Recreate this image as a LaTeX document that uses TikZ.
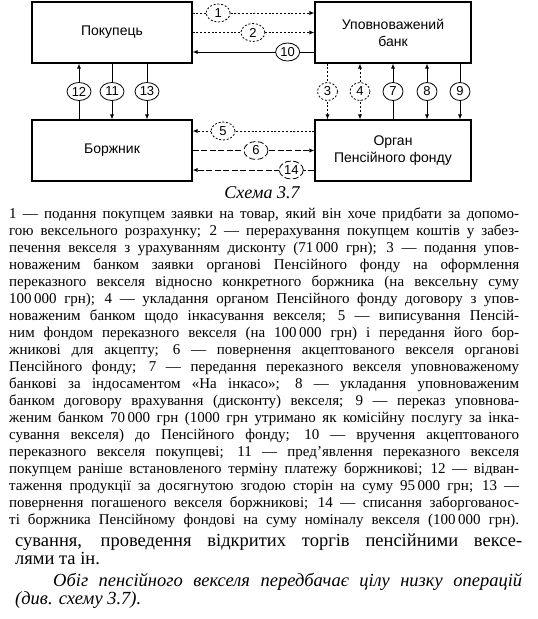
\documentclass[tikz,border=0pt]{standalone}
\usepackage{fontspec}
\setmainfont{Liberation Serif}
\setsansfont{Liberation Sans}
\usetikzlibrary{arrows.meta,shapes.geometric}

\begin{document}
\begin{tikzpicture}[x=1pt, y=-1pt,
    box/.style={draw, line width=1.1pt, minimum width=160pt, minimum height=61pt, align=center, font=\sffamily\fontsize{14}{17}\selectfont},
    num/.style={ellipse, draw, fill=white, line width=0.8pt, minimum width=20pt, minimum height=18pt, inner sep=0.5pt, font=\sffamily\fontsize{13}{13}\selectfont},
    wnum/.style={num, minimum width=24pt},
    link/.style={line width=0.8pt},
    arrow/.style={link, -{Latex[length=5pt,width=4pt]}},
    twoway/.style={link, {Latex[length=5pt,width=4pt]}-{Latex[length=5pt,width=4pt]}},
    dotline/.style={dash pattern=on 2pt off 1.8pt},
    dashline/.style={dash pattern=on 6pt off 2.5pt}
]
\useasboundingbox (0,0) rectangle (538,619);

% Participants
\node[box] (buyer) at (112,32.5) {Покупець};
\node[box, minimum width=156pt] (bank) at (393,32.5) {Уповноважений\\банк};
\node[box] (debtor) at (112,150.5) {Боржник};
\node[box, minimum width=156pt] (fund) at (393,150.5) {Орган\\Пенсійного фонду};

% Buyer <-> bank
\draw[arrow, dotline] ([yshift=19.5pt]buyer.east) -- node[wnum, pos=.21]{1} ([yshift=19.5pt]bank.west);
\draw[arrow, dotline] (buyer.east) -- node[wnum, pos=.495]{2} (bank.west);
\draw[arrow] ([yshift=-19.5pt]bank.west) -- node[wnum, pos=.22]{10} ([yshift=-19.5pt]buyer.east);

% Debtor <-> fund
\draw[arrow, dotline] ([yshift=19.5pt]fund.west) -- node[wnum, pos=.75]{5} ([yshift=19.5pt]debtor.east);
\draw[arrow, dashline] (debtor.east) -- node[wnum, pos=.52]{6} (fund.west);
\draw[arrow, dashline] ([yshift=-19.5pt]fund.west) -- node[wnum, pos=.19]{14} ([yshift=-19.5pt]debtor.east);

% Buyer <-> debtor
\draw[arrow] ([xshift=-33pt]debtor.north) -- node[wnum]{12} ([xshift=-33pt]buyer.south);
\draw[arrow] (buyer.south) -- node[wnum]{11} (debtor.north);
\draw[arrow] ([xshift=35pt]buyer.south) -- node[wnum]{13} ([xshift=35pt]debtor.north);

% Bank <-> fund
\draw[arrow, dotline] ([xshift=-65.5pt]bank.south) -- node[num]{3} ([xshift=-65.5pt]fund.north);
\draw[twoway, dotline] ([xshift=-33pt]bank.south) -- node[num]{4} ([xshift=-33pt]fund.north);
\draw[arrow] (fund.north) -- node[num]{7} (bank.south);
\draw[twoway] ([xshift=34pt]bank.south) -- node[num]{8} ([xshift=34pt]fund.north);
\draw[arrow] ([xshift=67pt]bank.south) -- node[num]{9} ([xshift=67pt]fund.north);

% Caption
\node[font=\itshape\fontsize{18}{18}\selectfont] (cap) at (262,193) {Схема 3.7};

% Legend
\node[anchor=base west, inner sep=0pt, text width=510pt, align=justify,
      font=\fontsize{15}{17}\selectfont] (legend) at (9,218.5)
{\tolerance=10000\hyphenpenalty=10000\parfillskip=0pt\lineskiplimit=-10pt
1 — подання покупцем заявки на товар, який він хоче придбати за допомо-\linebreak
гою вексельного розрахунку; 2 — перерахування покупцем коштів у забез-\linebreak
печення векселя з урахуванням дисконту (71\,000 грн); 3 — подання упов-\linebreak
новаженим банком заявки органові Пенсійного фонду на оформлення\linebreak
переказного векселя відносно конкретного боржника (на вексельну суму\linebreak
100\,000 грн); 4 — укладання органом Пенсійного фонду договору з упов-\linebreak
новаженим банком щодо інкасування векселя; 5 — виписування Пенсій-\linebreak
ним фондом переказного векселя (на 100\,000 грн) і передання його бор-\linebreak
жникові для акцепту; 6 — повернення акцептованого векселя органові\linebreak
Пенсійного фонду; 7 — передання переказного векселя уповноваженому\linebreak
банкові за індосаментом «На інкасо»; 8 — укладання уповноваженим\linebreak
банком договору врахування (дисконту) векселя; 9 — переказ уповнова-\linebreak
женим банком 70\,000 грн (1000 грн утримано як комісійну послугу за інка-\linebreak
сування векселя) до Пенсійного фонду; 10 — вручення акцептованого\linebreak
переказного векселя покупцеві; 11 — пред’явлення переказного векселя\linebreak
покупцем раніше встановленого терміну платежу боржникові; 12 — відван-\linebreak
таження продукції за досягнутою згодою сторін на суму 95\,000 грн; 13 —\linebreak
повернення погашеного векселя боржникові; 14 — списання заборгованос-\linebreak
ті боржника Пенсійному фондові на суму номіналу векселя (100\,000 грн).\par};

% Running text
\node[anchor=base west, inner sep=0pt, text width=507pt, align=justify,
      font=\fontsize{18.5}{18}\selectfont] (tail) at (15,546.5)
{\tolerance=10000\hyphenpenalty=10000\lineskiplimit=-10pt
сування, проведення відкритих торгів пенсійними вексе-\linebreak
лями та ін.\par
\vspace{4pt}\hspace*{38pt}\itshape Обіг пенсійного векселя передбачає цілу низку операцій\linebreak
(див. схему 3.7).\par};
\end{tikzpicture}
\end{document}
